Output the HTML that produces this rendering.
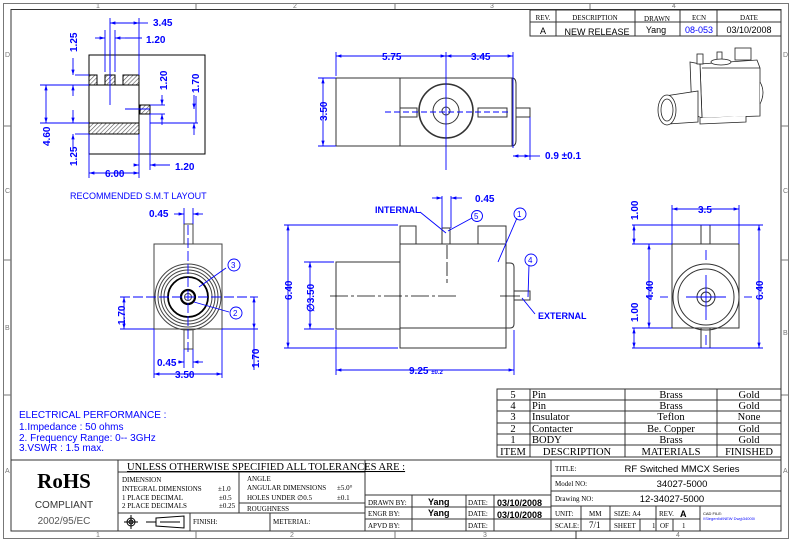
<!DOCTYPE html>
<html><head><style>body{margin:0;background:#fff}svg{display:block}</style></head><body>
<svg width="792" height="542" viewBox="0 0 792 542" xmlns="http://www.w3.org/2000/svg" font-family="Liberation Sans, sans-serif">
<defs>
<pattern id="h" width="3" height="3" patternUnits="userSpaceOnUse" patternTransform="rotate(45)"><rect width="3" height="3" fill="#fff"/><line x1="0" y1="0" x2="0" y2="3" stroke="#555" stroke-width="1.2"/></pattern>
<marker id="a" viewBox="0 0 10 10" refX="10" refY="5" markerWidth="6" markerHeight="6" orient="auto-start-reverse"><path d="M0,2 L10,5 L0,8z" fill="#00f"/></marker>
</defs>
<rect x="0" y="0" width="792" height="542" fill="#fff"/>
<!-- frame -->
<rect x="3.5" y="3.5" width="785" height="535" fill="none" stroke="#777"/>
<rect x="11" y="9.5" width="770" height="521.5" fill="none" stroke="#333"/>
<g stroke="#777"><line x1="196" y1="3" x2="196" y2="9"/><line x1="395" y1="3" x2="395" y2="9"/><line x1="590" y1="3" x2="590" y2="9"/>
<line x1="196" y1="531" x2="196" y2="539"/><line x1="395" y1="531" x2="395" y2="539"/><line x1="576" y1="531" x2="576" y2="539"/>
<line x1="3" y1="126" x2="11" y2="126"/><line x1="3" y1="260" x2="11" y2="260"/><line x1="3" y1="395" x2="11" y2="395"/>
<line x1="781" y1="126" x2="789" y2="126"/><line x1="781" y1="260" x2="789" y2="260"/><line x1="781" y1="395" x2="789" y2="395"/></g>
<g font-size="7" fill="#777"><text x="96" y="8">1</text><text x="293" y="8">2</text><text x="490" y="8">3</text><text x="672" y="8">4</text>
<text x="96" y="537">1</text><text x="290" y="537">2</text><text x="483" y="537">3</text><text x="676" y="537">4</text>
<text x="5" y="57">D</text><text x="5" y="193">C</text><text x="5" y="330">B</text><text x="5" y="473">A</text>
<text x="783" y="57">D</text><text x="783" y="193">C</text><text x="783" y="335">B</text><text x="783" y="473">A</text></g>

<!-- rev table -->
<g stroke="#333" fill="none"><rect x="530" y="10" width="251" height="26"/><line x1="530" y1="22" x2="781" y2="22"/>
<line x1="556" y1="10" x2="556" y2="36"/><line x1="635" y1="10" x2="635" y2="36"/><line x1="680" y1="10" x2="680" y2="36"/><line x1="717" y1="10" x2="717" y2="36"/></g>
<g font-family="Liberation Serif, serif" font-size="7" text-anchor="middle"><text x="543" y="20">REV.</text><text x="595" y="20">DESCRIPTION</text><text x="657" y="21">DRAWN</text><text x="699" y="20">ECN</text><text x="749" y="20">DATE</text></g>
<g font-size="9" text-anchor="middle"><text x="543" y="34">A</text><text x="597" y="35">NEW RELEASE</text><text x="656" y="33">Yang</text><text x="699" y="33" fill="#00f">08-053</text><text x="749" y="33">03/10/2008</text></g>

<!-- 3D iso -->
<g stroke="#222" fill="#fff" stroke-width="0.8">
<path d="M700,64 L757,60 L760,68 L760,116 L702,118 Z"/>
<path d="M690,62 L700,64 L702,118 L692,114 Z"/>
<path d="M702,68 L760,68"/>
<path d="M700,118 L700,124 L746,122 L746,116"/>
<rect x="697" y="54" width="6" height="10"/><rect x="717" y="52" width="5" height="10"/><rect x="735" y="48" width="16" height="12"/>
<ellipse cx="721" cy="62" rx="10" ry="3"/>
<path d="M665,96 L698,91 L698,122 L668,124"/>
<ellipse cx="667" cy="110" rx="9" ry="15"/><ellipse cx="667" cy="110" rx="6" ry="11"/>
<path d="M760,82 Q766,92 760,104"/>
</g>

<!-- SMT layout -->
<g stroke="#000" fill="none" stroke-width="1">
<rect x="89" y="55" width="116" height="99"/>
<path d="M89,85 L139,85 L139,123"/>
</g>
<g stroke="#000" fill="url(#h)"><rect x="89" y="75" width="8" height="10"/><rect x="105" y="75" width="10" height="10"/><rect x="123" y="75" width="16" height="10"/><rect x="140" y="105" width="10" height="9"/><rect x="89" y="123" width="50" height="11"/></g>
<g stroke="#00f" fill="none" stroke-width="0.9">
<line x1="110" y1="50" x2="110" y2="105"/><line x1="125" y1="109" x2="150" y2="109"/><line x1="139" y1="18" x2="139" y2="75"/>
<line x1="110" y1="18" x2="110" y2="70"/>
<line x1="110" y1="23" x2="139" y2="23" marker-start="url(#a)" marker-end="url(#a)"/><line x1="139" y1="23" x2="148" y2="23"/>
<line x1="105" y1="30" x2="105" y2="72"/><line x1="115" y1="30" x2="115" y2="72"/>
<line x1="95" y1="38" x2="105" y2="38" marker-end="url(#a)"/><line x1="125" y1="38" x2="115" y2="38" marker-end="url(#a)"/><line x1="125" y1="38" x2="142" y2="38"/>
<line x1="75" y1="75" x2="89" y2="75"/><line x1="75" y1="85" x2="89" y2="85"/><line x1="75" y1="123" x2="89" y2="123"/><line x1="75" y1="134" x2="89" y2="134"/><line x1="40" y1="85" x2="89" y2="85"/><line x1="40" y1="123" x2="89" y2="123"/>
<line x1="73" y1="58" x2="73" y2="75" marker-end="url(#a)"/><line x1="73" y1="96" x2="73" y2="85" marker-end="url(#a)"/>
<line x1="73" y1="110" x2="73" y2="123" marker-end="url(#a)"/><line x1="73" y1="151" x2="73" y2="134" marker-end="url(#a)"/>
<line x1="46" y1="85" x2="46" y2="123" marker-start="url(#a)" marker-end="url(#a)"/>
<line x1="150" y1="105" x2="165" y2="105"/><line x1="150" y1="114" x2="165" y2="114"/><line x1="196" y1="96" x2="196" y2="123"/>
<line x1="162" y1="95" x2="162" y2="105" marker-end="url(#a)"/><line x1="162" y1="125" x2="162" y2="114" marker-end="url(#a)"/>
<line x1="194" y1="95" x2="194" y2="109" marker-end="url(#a)"/><line x1="194" y1="135" x2="194" y2="123" marker-end="url(#a)"/><line x1="150" y1="123" x2="198" y2="123"/>
<line x1="89" y1="134" x2="89" y2="178"/><line x1="139" y1="134" x2="139" y2="178"/><line x1="150" y1="114" x2="150" y2="170"/>
<line x1="89" y1="173" x2="139" y2="173" marker-start="url(#a)" marker-end="url(#a)"/>
<line x1="134" y1="165" x2="139" y2="165" marker-end="url(#a)"/><line x1="170" y1="165" x2="150" y2="165" marker-end="url(#a)"/>
</g>
<g fill="#00f" font-size="10" font-weight="bold">
<text x="153" y="26">3.45</text><text x="146" y="43">1.20</text><text x="175" y="170">1.20</text><text x="105" y="177">6.00</text>
<text transform="translate(77,52) rotate(-90)">1.25</text><text transform="translate(77,166) rotate(-90)">1.25</text><text transform="translate(50,146) rotate(-90)">4.60</text>
<text transform="translate(167,90) rotate(-90)">1.20</text><text transform="translate(199,93) rotate(-90)">1.70</text>
</g>
<text x="70" y="199" fill="#00f" font-size="9">RECOMMENDED S.M.T LAYOUT</text>

<!-- top view -->
<g stroke="#333" fill="none">
<rect x="336" y="78" width="64" height="68"/><rect x="400" y="78" width="112" height="68"/>
<path d="M512,78 Q516,78 516,84 L516,140 Q516,146 512,146"/>
<rect x="400" y="108" width="17" height="9"/><rect x="478" y="108" width="29" height="9"/><rect x="516" y="108" width="14" height="9"/>
<circle cx="446" cy="111" r="27" stroke-width="1.6"/><circle cx="446" cy="111" r="13"/><circle cx="446" cy="111" r="4"/>
</g>
<g stroke="#00f" fill="none" stroke-width="0.9">
<line x1="446" y1="52" x2="446" y2="170"/><line x1="385" y1="112" x2="510" y2="112" stroke-dasharray="6,3"/>
<line x1="336" y1="52" x2="336" y2="76"/><line x1="513" y1="52" x2="513" y2="148"/>
<line x1="336" y1="56" x2="446" y2="56" marker-start="url(#a)" marker-end="url(#a)"/><line x1="446" y1="56" x2="513" y2="56" marker-start="url(#a)" marker-end="url(#a)"/>
<line x1="318" y1="78" x2="336" y2="78"/><line x1="318" y1="146" x2="336" y2="146"/>
<line x1="323" y1="78" x2="323" y2="146" marker-start="url(#a)" marker-end="url(#a)"/>
<line x1="530" y1="117" x2="530" y2="160"/>
<line x1="513" y1="156" x2="530" y2="156" marker-start="url(#a)" marker-end="url(#a)"/><line x1="530" y1="156" x2="540" y2="156"/>
</g>
<g fill="#00f" font-size="10" font-weight="bold"><text x="382" y="60">5.75</text><text x="471" y="60">3.45</text><text x="545" y="159">0.9 ±0.1</text><text transform="translate(327,121) rotate(-90)">3.50</text></g>

<!-- front view left -->
<g stroke="#444" fill="none">
<rect x="154" y="244" width="68" height="85"/>
<rect x="184" y="224" width="9" height="20" fill="#fff"/><rect x="184" y="329" width="9" height="20" fill="#fff"/>
<circle cx="188" cy="297" r="33"/><circle cx="188" cy="297" r="30"/><circle cx="188" cy="297" r="27"/><circle cx="188" cy="297" r="24"/>
<circle cx="188" cy="297" r="20" stroke="#000" stroke-width="1.8"/><circle cx="188" cy="297" r="7" stroke="#000" stroke-width="2.2"/><circle cx="188" cy="297" r="3.5"/>
</g>
<g stroke="#00f" fill="none" stroke-width="0.9">
<line x1="188" y1="225" x2="188" y2="355" stroke-dasharray="10,3"/><line x1="120" y1="297" x2="258" y2="297" stroke-dasharray="10,3"/>
<line x1="120" y1="329" x2="154" y2="329"/><line x1="222" y1="329" x2="258" y2="329"/>
<line x1="124" y1="297" x2="124" y2="329" marker-start="url(#a)" marker-end="url(#a)"/>
<line x1="254" y1="297" x2="254" y2="329" marker-start="url(#a)" marker-end="url(#a)"/><line x1="254" y1="329" x2="254" y2="370"/>
<line x1="184" y1="208" x2="184" y2="224"/><line x1="193" y1="208" x2="193" y2="224"/>
<line x1="174" y1="214" x2="184" y2="214" marker-end="url(#a)"/><line x1="203" y1="214" x2="193" y2="214" marker-end="url(#a)"/>
<line x1="184" y1="349" x2="184" y2="368"/><line x1="193" y1="349" x2="193" y2="368"/>
<line x1="178" y1="362" x2="184" y2="362" marker-end="url(#a)"/><line x1="203" y1="362" x2="193" y2="362" marker-end="url(#a)"/>
<line x1="154" y1="329" x2="154" y2="378"/><line x1="222" y1="329" x2="222" y2="378"/>
<line x1="154" y1="374" x2="222" y2="374" marker-start="url(#a)" marker-end="url(#a)"/>
<line x1="199" y1="287" x2="226" y2="268"/><line x1="194" y1="302" x2="229" y2="312"/>
<circle cx="234" cy="265" r="6"/><circle cx="236" cy="313" r="6"/>
</g>
<g fill="#00f" font-size="10" font-weight="bold"><text x="149" y="217">0.45</text><text x="157" y="366">0.45</text><text x="175" y="378">3.50</text>
<text transform="translate(125,325) rotate(-90)">1.70</text><text transform="translate(259,368) rotate(-90)">1.70</text></g>
<g fill="#00f" font-size="8"><text x="231" y="268">3</text><text x="233" y="316">2</text></g>

<!-- side view -->
<g stroke="#333" fill="none">
<rect x="400" y="244" width="106" height="104"/><line x1="400" y1="328" x2="506" y2="328"/>
<rect x="400" y="226" width="16" height="18"/><rect x="478" y="226" width="28" height="18"/><rect x="442" y="228" width="8" height="16"/>
<rect x="336" y="262" width="64" height="67"/>
<path d="M506,263 L510,263 Q514,263 514,267 L514,324 Q514,328 510,328 L506,328"/>
<rect x="514" y="291" width="16" height="9"/>
</g>
<g stroke="#000" stroke-width="0.8"><line x1="330" y1="296" x2="458" y2="296" stroke-dasharray="18,3,3,3"/><line x1="500" y1="296" x2="520" y2="296"/><line x1="447" y1="245" x2="447" y2="283" stroke-dasharray="14,3"/></g>
<g stroke="#00f" fill="none" stroke-width="0.9">
<line x1="284" y1="225" x2="398" y2="225"/><line x1="284" y1="348" x2="398" y2="348"/>
<line x1="288" y1="225" x2="288" y2="348" marker-start="url(#a)" marker-end="url(#a)"/>
<line x1="304" y1="262" x2="334" y2="262"/><line x1="304" y1="329" x2="334" y2="329"/>
<line x1="310" y1="262" x2="310" y2="329" marker-start="url(#a)" marker-end="url(#a)"/>
<line x1="336" y1="330" x2="336" y2="375"/><line x1="514" y1="330" x2="514" y2="375"/>
<line x1="336" y1="370" x2="514" y2="370" marker-start="url(#a)" marker-end="url(#a)"/>
<line x1="442" y1="196" x2="442" y2="228"/><line x1="451" y1="196" x2="451" y2="228"/>
<line x1="432" y1="198" x2="442" y2="198" marker-end="url(#a)"/><line x1="462" y1="198" x2="451" y2="198" marker-end="url(#a)"/>
<line x1="420" y1="212" x2="446" y2="233"/><line x1="448" y1="231" x2="472" y2="218"/>
<line x1="498" y1="262" x2="517" y2="218"/><line x1="528" y1="297" x2="529" y2="265"/><line x1="522" y1="298" x2="535" y2="314"/>
<circle cx="477" cy="216" r="5.5"/><circle cx="520" cy="214" r="6"/><circle cx="531" cy="260" r="6"/>
</g>
<g fill="#00f" font-size="10" font-weight="bold"><text x="475" y="202">0.45</text><text x="375" y="213" font-size="9">INTERNAL</text><text x="538" y="319" font-size="9">EXTERNAL</text>
<text x="409" y="374">9.25 <tspan font-size="6">±0.2</tspan></text>
<text transform="translate(292,300) rotate(-90)">6.40</text><text transform="translate(314,312) rotate(-90)">∅3.50</text></g>
<g fill="#00f" font-size="8"><text x="474" y="219">5</text><text x="517" y="217">1</text><text x="528" y="263">4</text></g>

<!-- right view -->
<g stroke="#333" fill="none">
<rect x="672" y="244" width="67" height="84"/>
<rect x="701" y="225" width="9" height="19" fill="#fff"/><rect x="701" y="328" width="9" height="20" fill="#fff"/>
<circle cx="706" cy="297" r="33"/><circle cx="706" cy="297" r="28"/><circle cx="706" cy="297" r="9"/><circle cx="706" cy="297" r="5"/>
</g>
<g stroke="#00f" fill="none" stroke-width="0.9">
<line x1="706" y1="250" x2="706" y2="260"/><line x1="706" y1="275" x2="706" y2="320"/><line x1="706" y1="335" x2="706" y2="345"/>
<line x1="660" y1="297" x2="668" y2="297"/><line x1="686" y1="297" x2="726" y2="297"/><line x1="744" y1="297" x2="752" y2="297"/>
<line x1="672" y1="205" x2="672" y2="244"/><line x1="739" y1="205" x2="739" y2="244"/>
<line x1="672" y1="209" x2="739" y2="209" marker-start="url(#a)" marker-end="url(#a)"/>
<line x1="632" y1="225" x2="763" y2="225"/><line x1="632" y1="244" x2="672" y2="244"/><line x1="632" y1="328" x2="672" y2="328"/><line x1="632" y1="348" x2="763" y2="348"/>
<line x1="634" y1="225" x2="634" y2="244" marker-start="url(#a)" marker-end="url(#a)"/>
<line x1="649" y1="244" x2="649" y2="328" marker-start="url(#a)" marker-end="url(#a)"/>
<line x1="634" y1="328" x2="634" y2="348" marker-start="url(#a)" marker-end="url(#a)"/>
<line x1="759" y1="225" x2="759" y2="348" marker-start="url(#a)" marker-end="url(#a)"/>
</g>
<g fill="#00f" font-size="10" font-weight="bold"><text x="698" y="213">3.5</text>
<text transform="translate(638,220) rotate(-90)">1.00</text><text transform="translate(653,300) rotate(-90)">4.40</text><text transform="translate(638,322) rotate(-90)">1.00</text><text transform="translate(763,300) rotate(-90)">6.40</text></g>

<!-- electrical -->
<g fill="#00f" font-size="10"><text x="19" y="418">ELECTRICAL PERFORMANCE :</text><text x="19" y="430">1.Impedance : 50 ohms</text><text x="19" y="441">2.  Frequency Range: 0-- 3GHz</text><text x="19" y="451">3.VSWR : 1.5 max.</text></g>

<!-- BOM -->
<g stroke="#333" fill="none"><rect x="497" y="389" width="284" height="68"/>
<line x1="497" y1="400" x2="781" y2="400"/><line x1="497" y1="411" x2="781" y2="411"/><line x1="497" y1="423" x2="781" y2="423"/><line x1="497" y1="434" x2="781" y2="434"/><line x1="497" y1="445" x2="781" y2="445"/>
<line x1="530" y1="389" x2="530" y2="457"/><line x1="625" y1="389" x2="625" y2="457"/><line x1="717" y1="389" x2="717" y2="457"/></g>
<g font-family="Liberation Serif, serif" font-size="10.5">
<g text-anchor="middle"><text x="513" y="398">5</text><text x="513" y="409">4</text><text x="513" y="420">3</text><text x="513" y="432">2</text><text x="513" y="443">1</text><text x="513" y="455">ITEM</text>
<text x="671" y="398">Brass</text><text x="671" y="409">Brass</text><text x="671" y="420">Teflon</text><text x="671" y="432">Be. Copper</text><text x="671" y="443">Brass</text><text x="671" y="455">MATERIALS</text>
<text x="749" y="398">Gold</text><text x="749" y="409">Gold</text><text x="749" y="420">None</text><text x="749" y="432">Gold</text><text x="749" y="443">Gold</text><text x="749" y="455">FINISHED</text>
<text x="577" y="455">DESCRIPTION</text></g>
<text x="532" y="398">Pin</text><text x="532" y="409">Pin</text><text x="532" y="420">Insulator</text><text x="532" y="432">Contacter</text><text x="532" y="443">BODY</text></g>

<!-- title block -->
<g stroke="#333" fill="none">
<line x1="11" y1="460" x2="781" y2="460"/>
<line x1="118" y1="460" x2="118" y2="531"/><line x1="365" y1="460" x2="365" y2="531"/><line x1="118" y1="472" x2="365" y2="472"/>
<line x1="239" y1="472" x2="239" y2="513"/><line x1="239" y1="503" x2="365" y2="503"/><line x1="118" y1="513" x2="365" y2="513"/>
<line x1="190" y1="513" x2="190" y2="531"/><line x1="270" y1="513" x2="270" y2="531"/>
<line x1="365" y1="495" x2="551" y2="495"/><line x1="365" y1="507" x2="551" y2="507"/><line x1="365" y1="519" x2="551" y2="519"/>
<line x1="412" y1="495" x2="412" y2="531"/><line x1="466" y1="495" x2="466" y2="531"/><line x1="494" y1="495" x2="494" y2="531"/>
<line x1="551" y1="460" x2="551" y2="531"/>
<line x1="551" y1="476" x2="781" y2="476"/><line x1="551" y1="491" x2="781" y2="491"/><line x1="551" y1="506" x2="781" y2="506"/><line x1="551" y1="519" x2="700" y2="519"/>
<line x1="581" y1="506" x2="581" y2="531"/><line x1="610" y1="506" x2="610" y2="531"/><line x1="656" y1="506" x2="656" y2="531"/><line x1="700" y1="506" x2="700" y2="531"/>
<line x1="640" y1="519" x2="640" y2="531"/><line x1="673" y1="519" x2="673" y2="531"/>
<line x1="576" y1="531" x2="576" y2="539"/>
</g>
<text x="64" y="488" font-family="Liberation Serif, serif" font-size="21" font-weight="bold" text-anchor="middle">RoHS</text>
<text x="64" y="508" font-size="10" text-anchor="middle" fill="#333">COMPLIANT</text>
<text x="64" y="524" font-size="10" text-anchor="middle" fill="#555">2002/95/EC</text>
<g font-family="Liberation Serif, serif" font-size="7">
<text x="127" y="470" font-size="10.5" text-decoration="underline">UNLESS OTHERWISE SPECIFIED ALL TOLERANCES ARE :</text>
<text x="122" y="482">DIMENSION</text><text x="122" y="491">INTEGRAL  DIMENSIONS</text><text x="218" y="491">±1.0</text>
<text x="122" y="500">1 PLACE  DECIMAL</text><text x="219" y="500">±0.5</text><text x="122" y="508">2 PLACE  DECIMALS</text><text x="219" y="508">±0.25</text>
<text x="247" y="481">ANGLE</text><text x="247" y="490">ANGULAR DIMENSIONS</text><text x="337" y="490">±5.0°</text>
<text x="247" y="500">HOLES UNDER   ∅0.5</text><text x="337" y="500">±0.1</text><text x="247" y="511">ROUGHNESS</text>
<text x="193" y="524">FINISH:</text><text x="273" y="524">METERIAL:</text>
<text x="368" y="505">DRAWN BY:</text><text x="368" y="516">ENGR BY:</text><text x="368" y="528">APVD BY:</text>
<text x="468" y="505">DATE:</text><text x="468" y="516">DATE:</text><text x="468" y="528">DATE:</text>
<text x="555" y="471">TITLE:</text><text x="555" y="486">Model NO:</text><text x="555" y="501">Drawing NO:</text><text x="555" y="516">UNIT:</text><text x="555" y="528">SCALE:</text>
<text x="589" y="516">MM</text><text x="614" y="516">SIZE:  A4</text><text x="659" y="516">REV.</text><text x="614" y="528">SHEET</text><text x="652" y="528">1</text><text x="660" y="528">OF</text><text x="682" y="528">1</text>
<text x="589" y="528" font-size="9">7/1</text></g>
<g font-size="9" font-weight="bold"><text x="428" y="505">Yang</text><text x="428" y="516">Yang</text><text x="497" y="506">03/10/2008</text><text x="497" y="518">03/10/2008</text><text x="680" y="517">A</text></g>
<g font-size="9.5" text-anchor="middle"><text x="682" y="472">RF Switched  MMCX Series</text><text x="682" y="487">34027-5000</text><text x="672" y="502">12-34027-5000</text></g>
<text x="703" y="515" font-size="4">CAD FILE:</text><text x="703" y="520" font-size="4" fill="#00f">\\Siegent\d\NEW Dwg\34000\</text>
<g stroke="#000" fill="none"><circle cx="131" cy="522" r="4"/><circle cx="131" cy="522" r="2"/><line x1="124" y1="522" x2="138" y2="522"/><line x1="131" y1="515" x2="131" y2="529"/>
<path d="M146,522 L156,522 M156,518 L184,516 L184,528 L156,526 Z M160,522 L180,522" stroke-dasharray="none"/></g>
</svg>
</body></html>
